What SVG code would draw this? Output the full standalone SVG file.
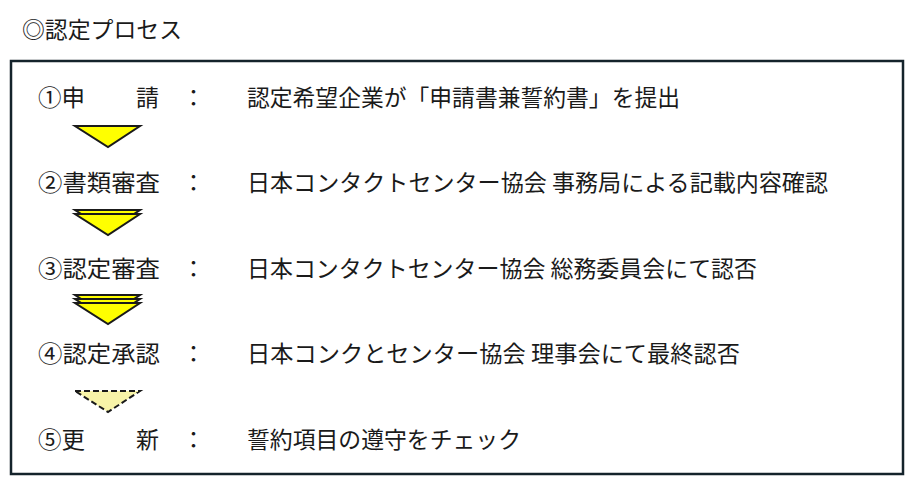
<svg xmlns="http://www.w3.org/2000/svg" width="922" height="493" viewBox="0 0 922 493">
<style>
text{font-family:"Noto Sans CJK JP","Noto Sans",sans-serif;fill:#1a1a1a;font-size:23px}
.tri{fill:#ffff00;stroke:#1a1a1a;stroke-width:2;stroke-linejoin:miter}
.dash{fill:#f8f4a8;stroke:#1a1a1a;stroke-width:2;stroke-dasharray:6 3}
</style>
<rect width="922" height="493" fill="#ffffff"/>
<text x="22" y="38" font-size="22" textLength="160" lengthAdjust="spacingAndGlyphs">◎認定プロセス</text>
<rect x="11" y="61" width="892" height="413" fill="none" stroke="#14232b" stroke-width="2.5"/>
<g id="row1">
<text x="38" y="106" textLength="47" lengthAdjust="spacingAndGlyphs">①申</text>
<text x="136" y="106">請</text>
<text x="182" y="106">：</text>
<text x="247" y="106" textLength="433" lengthAdjust="spacingAndGlyphs">認定希望企業が「申請書兼誓約書」を提出</text>
</g>
<g id="row2">
<text x="38" y="191" textLength="122" lengthAdjust="spacingAndGlyphs">②書類審査</text>
<text x="182" y="191">：</text>
<text x="247" y="191" textLength="581" lengthAdjust="spacingAndGlyphs">日本コンタクトセンター協会 事務局による記載内容確認</text>
</g>
<g id="row3">
<text x="38" y="277" textLength="122" lengthAdjust="spacingAndGlyphs">③認定審査</text>
<text x="182" y="277">：</text>
<text x="247" y="277" textLength="510" lengthAdjust="spacingAndGlyphs">日本コンタクトセンター協会 総務委員会にて認否</text>
</g>
<g id="row4">
<text x="38" y="362" textLength="122" lengthAdjust="spacingAndGlyphs">④認定承認</text>
<text x="182" y="362">：</text>
<text x="247" y="362" textLength="493" lengthAdjust="spacingAndGlyphs">日本コンクとセンター協会 理事会にて最終認否</text>
</g>
<g id="row5">
<text x="38" y="448" textLength="47" lengthAdjust="spacingAndGlyphs">⑤更</text>
<text x="136" y="448">新</text>
<text x="182" y="448">：</text>
<text x="247" y="448" textLength="274" lengthAdjust="spacingAndGlyphs">誓約項目の遵守をチェック</text>
</g>
<g id="connectors">
<polygon class="tri" points="75,126 140,126 108,147"/>
<polygon class="tri" points="75,210 140,210 108,231"/>
<polygon class="tri" points="75,214 140,214 108,235"/>
<polygon class="tri" points="75,295 140,295 108,316"/>
<polygon class="tri" points="75,299 140,299 108,320"/>
<polygon class="tri" points="75,303 140,303 108,324"/>
<polygon class="dash" points="75,391 140,391 108,412"/>
</g>
</svg>
